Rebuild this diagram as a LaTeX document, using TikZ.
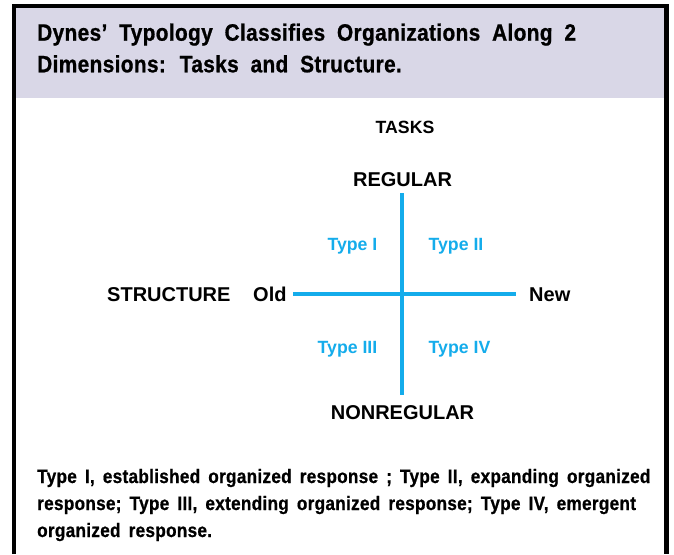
\documentclass[tikz,border=0pt]{standalone}
\usepackage{fontspec}
\setmainfont{Liberation Sans}
\newfontfamily\condfont[FakeStretch=0.88,LetterSpace=1.5,WordSpace=1.6,BoldFeatures={FakeBold=0.8}]{Liberation Sans}
\newcommand\titlesetup{\condfont\bfseries\fontsize{23.7}{28}\selectfont\spaceskip=11.8pt plus 0pt minus 0pt\relax}
\definecolor{headfill}{HTML}{D9D7E7}
\definecolor{typeblue}{HTML}{14ACEB}
\tikzset{
  lbl/.style={inner sep=0pt, font=\fontsize{20}{24}\selectfont\bfseries, text=black},
  tlbl/.style={inner sep=0pt, font=\fontsize{17.7}{21}\selectfont\bfseries, text=typeblue},
  titletxt/.style={inner sep=0pt, anchor=base west},
  captxt/.style={inner sep=0pt, anchor=base west, font=\condfont\bfseries\fontsize{19.5}{24}\selectfont},
  axis/.style={draw=typeblue, line width=3.5pt}
}
\begin{document}
\begin{tikzpicture}[x=1pt,y=-1pt]
\useasboundingbox (0,0) rectangle (674,554);
% header band
\fill[headfill] (14,6) rectangle (666,98);
% frame
\draw[line width=4.5pt] (14,554) -- (14,6) -- (666.5,6) -- (666.5,554);
% title
\node[titletxt] (t1) at (37,40.7) {\titlesetup Dynes’ Typology Classifies Organizations Along 2};
\node[titletxt] (t2) at (37,72.3) {\titlesetup Dimensions: Tasks and Structure.};
% diagram labels
\node[lbl, anchor=base, font=\fontsize{17.7}{21}\selectfont\bfseries] (tasks) at (405,133) {TASKS};
\node[lbl, anchor=base] (reg) at (402.5,186) {REGULAR};
\node[lbl, anchor=base] (nonreg) at (402.5,419) {NONREGULAR};
\node[lbl, anchor=base west] (struct) at (107,301) {STRUCTURE};
\node[lbl, anchor=base west] (old) at (253,301) {Old};
\node[lbl, anchor=base west] (new) at (529,301) {New};
\node[tlbl, anchor=base] (ty1) at (352.5,250) {Type I};
\node[tlbl, anchor=base] (ty2) at (456,250) {Type II};
\node[tlbl, anchor=base] (ty3) at (347.5,353) {Type III};
\node[tlbl, anchor=base] (ty4) at (459.5,353) {Type IV};
% axes
\coordinate (vtop) at (402,193);
\coordinate (vbot) at (402,395);
\coordinate (hl) at (293,294);
\coordinate (hr) at (516,294);
\draw[axis] (vtop) -- (vbot);
\draw[axis] (hl) -- (hr);
% caption
\node[captxt] (c1) at (37,483) {Type I, established organized response ; Type II, expanding organized};
\node[captxt] (c2) at (37,510) {response; Type III, extending organized response; Type IV, emergent};
\node[captxt] (c3) at (37,537) {organized response.};
\end{tikzpicture}
\end{document}
